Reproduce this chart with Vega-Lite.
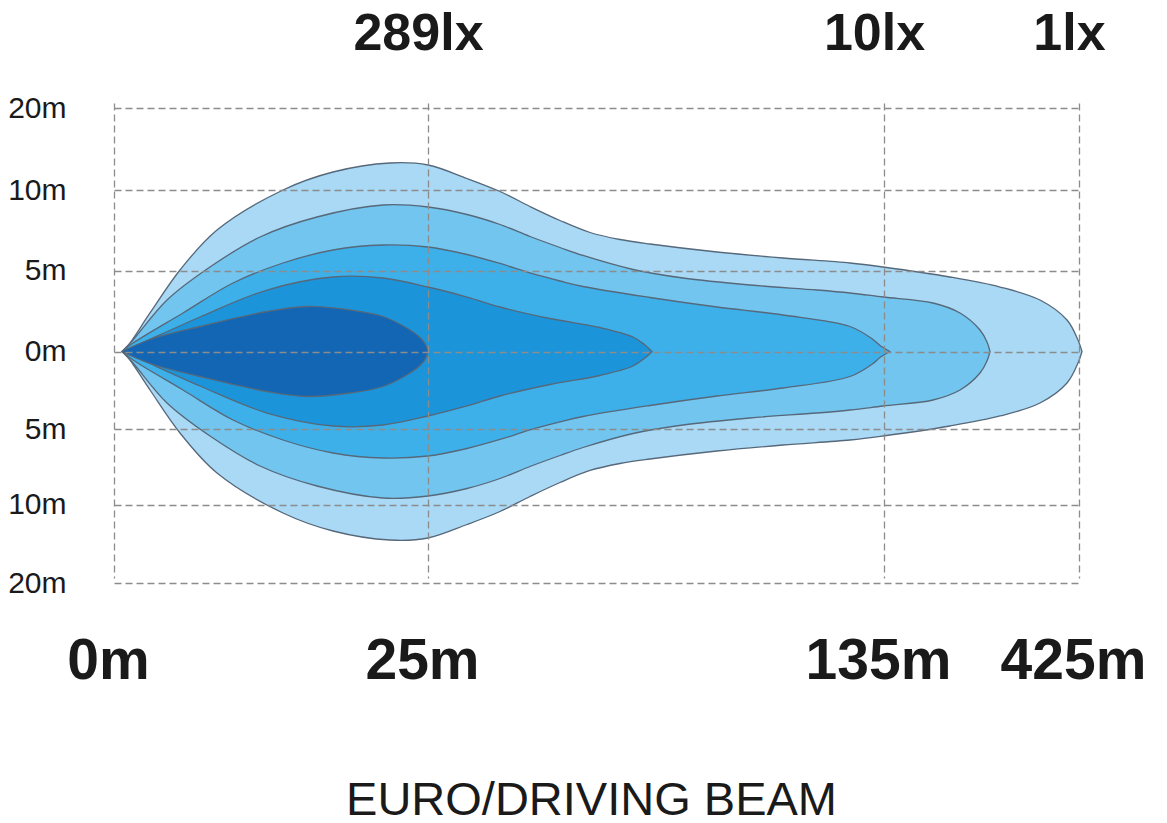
{
  "$schema": "https://vega.github.io/schema/vega-lite/v6.json",
  "width": 996,
  "height": 540,
  "autosize": {"type": "none"},
  "padding": {"left": 114, "top": 73, "right": 57, "bottom": 210},
  "background": "white",
  "config": {"view": {"stroke": null}, "font": "Liberation Sans"},
  "data": {"values": [
    {"band": "a", "x": 0.637, "top": 0, "bottom": 0},
    {"band": "a", "x": 1.035, "top": 0.278, "bottom": -0.29},
    {"band": "a", "x": 2.866, "top": 2.377, "bottom": -2.484},
    {"band": "a", "x": 5.255, "top": 5.031, "bottom": -5.265},
    {"band": "a", "x": 8.201, "top": 7.516, "bottom": -7.914},
    {"band": "a", "x": 13.455, "top": 10.0, "bottom": -11.083},
    {"band": "a", "x": 17.436, "top": 12.195, "bottom": -13.376},
    {"band": "a", "x": 21.975, "top": 13.293, "bottom": -14.522},
    {"band": "a", "x": 25, "top": 13.049, "bottom": -14.268},
    {"band": "a", "x": 34.408, "top": 11.402, "bottom": -12.548},
    {"band": "a", "x": 42.368, "top": 9.907, "bottom": -10.892},
    {"band": "a", "x": 49.605, "top": 8.975, "bottom": -9.47},
    {"band": "a", "x": 56.842, "top": 8.106, "bottom": -8.543},
    {"band": "a", "x": 64.079, "top": 7.36, "bottom": -7.748},
    {"band": "a", "x": 71.316, "top": 6.925, "bottom": -7.285},
    {"band": "a", "x": 78.553, "top": 6.646, "bottom": -6.987},
    {"band": "a", "x": 94.715, "top": 6.149, "bottom": -6.457},
    {"band": "a", "x": 110.636, "top": 5.776, "bottom": -6.06},
    {"band": "a", "x": 126.798, "top": 5.466, "bottom": -5.728},
    {"band": "a", "x": 134.759, "top": 5.217, "bottom": -5.464},
    {"band": "a", "x": 233.154, "top": 4.599, "bottom": -4.806},
    {"band": "a", "x": 307.513, "top": 3.981, "bottom": -4.161},
    {"band": "a", "x": 367.0, "top": 3.179, "bottom": -3.323},
    {"band": "a", "x": 407.154, "top": 1.944, "bottom": -2.032},
    {"band": "a", "x": 423.513, "top": 0.71, "bottom": -0.742},
    {"band": "a", "x": 429.462, "top": 0, "bottom": 0},

    {"band": "b", "x": 0.637, "top": 0, "bottom": 0},
    {"band": "b", "x": 1.513, "top": 0.71, "bottom": -0.742},
    {"band": "b", "x": 4.22, "top": 3.179, "bottom": -3.323},
    {"band": "b", "x": 7.643, "top": 5.217, "bottom": -5.464},
    {"band": "b", "x": 11.624, "top": 7.081, "bottom": -7.45},
    {"band": "b", "x": 16.162, "top": 8.323, "bottom": -8.775},
    {"band": "b", "x": 21.417, "top": 9.068, "bottom": -9.57},
    {"band": "b", "x": 25, "top": 8.944, "bottom": -9.437},
    {"band": "b", "x": 34.408, "top": 8.478, "bottom": -8.94},
    {"band": "b", "x": 42.368, "top": 7.857, "bottom": -8.278},
    {"band": "b", "x": 49.605, "top": 7.112, "bottom": -7.483},
    {"band": "b", "x": 56.842, "top": 6.429, "bottom": -6.755},
    {"band": "b", "x": 62.39, "top": 5.932, "bottom": -6.225},
    {"band": "b", "x": 74.452, "top": 5.062, "bottom": -5.298},
    {"band": "b", "x": 86.513, "top": 4.537, "bottom": -4.742},
    {"band": "b", "x": 102.675, "top": 4.105, "bottom": -4.29},
    {"band": "b", "x": 118.838, "top": 3.796, "bottom": -3.968},
    {"band": "b", "x": 126.798, "top": 3.611, "bottom": -3.774},
    {"band": "b", "x": 134.759, "top": 3.364, "bottom": -3.516},
    {"band": "b", "x": 207.872, "top": 2.994, "bottom": -3.129},
    {"band": "b", "x": 248.026, "top": 2.377, "bottom": -2.484},
    {"band": "b", "x": 277.769, "top": 1.327, "bottom": -1.387},
    {"band": "b", "x": 288.18, "top": 0.586, "bottom": -0.613},
    {"band": "b", "x": 292.641, "top": 0, "bottom": 0},

    {"band": "c", "x": 0.637, "top": 0, "bottom": 0},
    {"band": "c", "x": 1.513, "top": 0.525, "bottom": -0.548},
    {"band": "c", "x": 5.494, "top": 2.377, "bottom": -2.484},
    {"band": "c", "x": 9.475, "top": 4.228, "bottom": -4.419},
    {"band": "c", "x": 13.455, "top": 5.466, "bottom": -5.728},
    {"band": "c", "x": 17.436, "top": 6.273, "bottom": -6.589},
    {"band": "c", "x": 21.417, "top": 6.584, "bottom": -6.921},
    {"band": "c", "x": 25, "top": 6.46, "bottom": -6.788},
    {"band": "c", "x": 34.408, "top": 5.994, "bottom": -6.291},
    {"band": "c", "x": 42.368, "top": 5.435, "bottom": -5.695},
    {"band": "c", "x": 49.605, "top": 4.846, "bottom": -5.066},
    {"band": "c", "x": 56.842, "top": 4.352, "bottom": -4.548},
    {"band": "c", "x": 62.39, "top": 4.012, "bottom": -4.194},
    {"band": "c", "x": 78.553, "top": 3.333, "bottom": -3.484},
    {"band": "c", "x": 94.715, "top": 2.747, "bottom": -2.871},
    {"band": "c", "x": 110.636, "top": 2.253, "bottom": -2.355},
    {"band": "c", "x": 126.798, "top": 1.543, "bottom": -1.613},
    {"band": "c", "x": 132.346, "top": 0.741, "bottom": -0.774},
    {"band": "c", "x": 134.035, "top": 0.37, "bottom": -0.387},
    {"band": "c", "x": 143.923, "top": 0, "bottom": 0},

    {"band": "d", "x": 0.637, "top": 0, "bottom": 0},
    {"band": "d", "x": 1.513, "top": 0.278, "bottom": -0.29},
    {"band": "d", "x": 6.847, "top": 2.13, "bottom": -2.226},
    {"band": "d", "x": 12.182, "top": 3.796, "bottom": -3.968},
    {"band": "d", "x": 17.436, "top": 4.599, "bottom": -4.806},
    {"band": "d", "x": 21.417, "top": 4.537, "bottom": -4.742},
    {"band": "d", "x": 25, "top": 3.981, "bottom": -4.161},
    {"band": "d", "x": 34.408, "top": 3.364, "bottom": -3.516},
    {"band": "d", "x": 42.368, "top": 2.747, "bottom": -2.871},
    {"band": "d", "x": 54.43, "top": 2.037, "bottom": -2.129},
    {"band": "d", "x": 66.491, "top": 1.481, "bottom": -1.548},
    {"band": "d", "x": 74.452, "top": 0.895, "bottom": -0.935},
    {"band": "d", "x": 77.346, "top": 0.401, "bottom": -0.419},
    {"band": "d", "x": 79.035, "top": 0, "bottom": 0},

    {"band": "e", "x": 0.637, "top": 0, "bottom": 0},
    {"band": "e", "x": 2.866, "top": 0.741, "bottom": -0.774},
    {"band": "e", "x": 6.847, "top": 1.543, "bottom": -1.613},
    {"band": "e", "x": 12.182, "top": 2.469, "bottom": -2.581},
    {"band": "e", "x": 15.366, "top": 2.778, "bottom": -2.903},
    {"band": "e", "x": 18.79, "top": 2.562, "bottom": -2.677},
    {"band": "e", "x": 21.417, "top": 2.16, "bottom": -2.258},
    {"band": "e", "x": 23.567, "top": 1.327, "bottom": -1.387},
    {"band": "e", "x": 24.363, "top": 0.864, "bottom": -0.903},
    {"band": "e", "x": 24.761, "top": 0.494, "bottom": -0.516},
    {"band": "e", "x": 25, "top": 0, "bottom": 0}
  ]},
  "layer": [
    {
      "mark": {"type": "area", "interpolate": "catmull-rom", "stroke": "#56687a", "strokeWidth": 1.3, "strokeJoin": "round"},
      "encoding": {
        "x": {
          "field": "x", "type": "quantitative",
          "scale": {"domain": [0, 25, 135, 425], "range": [0, 314, 770, 965], "nice": false, "zero": false},
          "axis": {
            "orient": "bottom", "values": [0, 25, 135, 425], "labelExpr": "datum.value + 'm'",
            "ticks": false, "tickSize": 0, "domain": false,
            "grid": true, "gridDash": [7, 4], "gridColor": "#8c8c8c", "gridWidth": 1.3, "zindex": 1,
            "labelFont": "Liberation Sans", "labelFontWeight": "bold", "labelFontSize": 57, "labelColor": "#1a1a1a",
            "labelBaseline": "alphabetic", "labelPadding": 65, "labelFlush": false, "labelOverlap": false, "labelOffset": -6,
            "title": "EURO/DRIVING BEAM", "titleFont": "Liberation Sans", "titleFontSize": 47, "titleFontWeight": "normal",
            "titleColor": "#1a1a1a", "titleBaseline": "alphabetic", "titleY": 201, "titleX": 477, "titleAlign": "center"
          }
        },
        "y": {
          "field": "top", "type": "quantitative",
          "scale": {"domain": [-20, -10, -5, 0, 5, 10, 20], "range": [510, 431.5, 356, 278.5, 197.5, 117, 35], "nice": false, "zero": false},
          "axis": {
            "values": [-20, -10, -5, 0, 5, 10, 20], "labelExpr": "abs(datum.value) + 'm'",
            "ticks": false, "tickSize": 0, "domain": false,
            "grid": true, "gridDash": [7, 4], "gridColor": "#8c8c8c", "gridWidth": 1.3, "zindex": 1,
            "labelFont": "Liberation Sans", "labelFontSize": 30, "labelColor": "#1a1a1a", "labelPadding": 48,
            "labelBaseline": "middle", "labelFlush": false, "labelOverlap": false, "title": null
          }
        },
        "y2": {"field": "bottom"},
        "color": {
          "field": "band", "type": "nominal",
          "scale": {"domain": ["a", "b", "c", "d", "e"], "range": ["#a9d9f5", "#72c5ef", "#3eb0e9", "#1c94da", "#1266b4"]},
          "legend": null
        }
      }
    },
    {
      "data": {"values": [{"lux": 25, "label": "289lx"}, {"lux": 135, "label": "10lx"}, {"lux": 425, "label": "1lx"}]},
      "mark": {"type": "rule", "opacity": 0},
      "encoding": {
        "x": {
          "field": "lux", "type": "quantitative",
          "axis": {
            "orient": "top", "values": [25, 135, 425],
            "labelExpr": "datum.value == 25 ? '289lx' : datum.value == 135 ? '10lx' : '1lx'",
            "ticks": false, "tickSize": 0, "domain": false, "grid": false,
            "labelFont": "Liberation Sans", "labelFontWeight": "bold", "labelFontSize": 52, "labelColor": "#1a1a1a",
            "labelBaseline": "alphabetic", "labelPadding": 24, "labelFlush": false, "labelOverlap": false, "labelOffset": -10,
            "title": null
          }
        }
      }
    }
  ],
  "resolve": {"axis": {"x": "independent"}}
}
